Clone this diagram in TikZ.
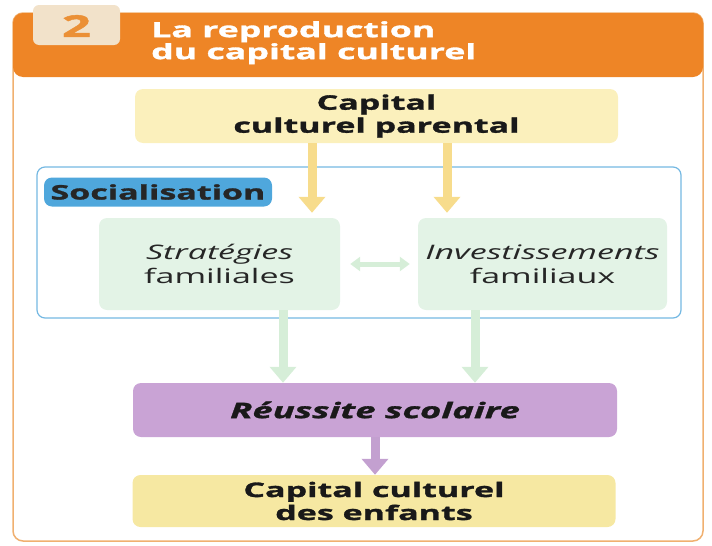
\documentclass[tikz,border=0pt]{standalone}
\usepackage{fontspec}
\setmainfont[FakeStretch=1.7, BoldFeatures={FakeBold=1.5},
    BoldItalicFeatures={FakeBold=1.5}]{Open Sans}
\usetikzlibrary{arrows.meta}
\definecolor{headorange}{HTML}{EE8526}
\definecolor{frameorange}{HTML}{F0B070}
\definecolor{numbeige}{HTML}{F2E2CA}
\definecolor{numorange}{HTML}{EB9036}
\definecolor{capyellow}{HTML}{FBF0BC}
\definecolor{enfyellow}{HTML}{F6E8A2}
\definecolor{arryellow}{HTML}{F7DC8C}
\definecolor{socblue}{HTML}{74B8E2}
\definecolor{labelblue}{HTML}{4FA7DC}
\definecolor{famgreen}{HTML}{E3F3E6}
\definecolor{arrgreen}{HTML}{D6EED8}
\definecolor{reusspurple}{HTML}{C9A3D5}
\definecolor{arrpurple}{HTML}{C3A0D0}
\tikzstyle{capbox} = [rectangle, rounded corners=8pt, minimum width=483pt, align=center,
    text=black!90, font=\bfseries\fontsize{20}{23}\selectfont]
\tikzstyle{fambox} = [rectangle, fill=famgreen, rounded corners=8pt,
    minimum height=92pt, align=center, text=black!85,
    font=\fontsize{20}{24}\selectfont]
\tikzstyle{fatarrow} = [line width=9pt, -{Triangle[width=26pt,length=16pt]}]

\begin{document}
\begin{tikzpicture}[x=1pt,y=-1pt]
    \useasboundingbox (0,0) rectangle (712,546);
    % cadre et bandeau
    \draw[frameorange, line width=1.5pt, rounded corners=10pt] (13,13) rectangle (703,541);
    \fill[headorange, rounded corners=10pt] (13,77) -- (13,13) -- (703,13) -- (703,77) -- cycle;
    \fill[numbeige, rounded corners=6pt] (33,45) -- (33,5) -- (120,5) -- (120,45) -- cycle;
    \node[text=numorange, font=\bfseries\fontsize{30}{30}\selectfont] (num) at (76.5,26) {2};
    \node[anchor=north west, text=white, align=left, inner sep=0pt,
        font=\bfseries\fontsize{21}{22}\selectfont] (title) at (151,21)
        {La reproduction\\du capital culturel};
    % boites
    \node[capbox, fill=capyellow, minimum height=54pt] (par) at (376.5,116)
        {Capital\\culturel parental};
    \draw[socblue, line width=1.2pt, rounded corners=8pt] (37,167) rectangle (681,318);
    \node[fill=labelblue, rounded corners=8pt, minimum width=228pt, minimum height=29pt,
        text=black!85, font=\bfseries\fontsize{20}{24}\selectfont] (soc) at (158,192)
        {Socialisation};
    \node[fambox, minimum width=241pt] (strat) at (219.5,264)
        {\itshape Stratégies\\familiales};
    \node[fambox, minimum width=249pt] (invest) at (542.5,264)
        {\itshape Investissements\\familiaux};
    \node[rectangle, rounded corners=8pt, fill=reusspurple, minimum width=484pt, minimum height=54pt,
        text=black!90, font=\bfseries\itshape\fontsize{21.5}{24}\selectfont] (reuss) at (375,410)
        {Réussite scolaire};
    \node[capbox, fill=enfyellow, minimum height=52pt] (enf) at (374,501)
        {Capital culturel\\des enfants};
    % fleches
    \draw[fatarrow, arryellow, shorten >=5pt] (par.south -| 312,0) -- (strat.north -| 312,0);
    \draw[fatarrow, arryellow, shorten >=5pt] (par.south -| 447,0) -- (strat.north -| 447,0);
    \draw[line width=5pt, arrgreen, {Triangle[width=14pt,length=10pt]}-{Triangle[width=14pt,length=10pt]},
        shorten <=10pt, shorten >=8pt] (strat.east) -- (invest.west);
    \draw[fatarrow, arrgreen] (strat.south -| 283,0) -- (reuss.north -| 283,0);
    \draw[fatarrow, arrgreen] (invest.south -| 475,0) -- (reuss.north -| 475,0);
    \draw[fatarrow, arrpurple] (reuss.south -| 375,0) -- (enf.north -| 375,0);
\end{tikzpicture}
\end{document}
